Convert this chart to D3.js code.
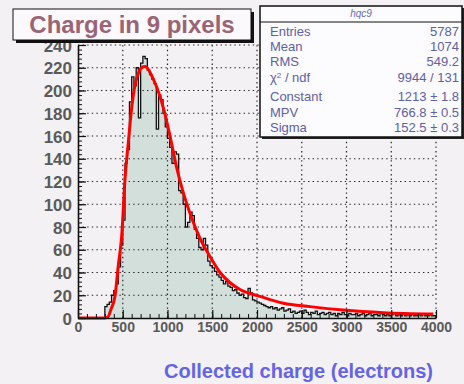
<!DOCTYPE html>
<html>
<head>
<meta charset="utf-8">
<script src="https://cdn.jsdelivr.net/npm/d3@7"></script>
<style>
  html, body { margin: 0; padding: 0; background: #f4f1f5; }
  svg { display: block; }
</style>
</head>
<body>
<svg id="chart" width="464" height="384"></svg>
<script>
// Histogram: collected charge in a 3x3 pixel cluster, 25-electron bins from 0 to 4000
const binWidth = 25;
const counts = [
  0, 0, 0, 0, 0, 0, 0, 0, 0, 0, 0, 0,
  10, 12, 14, 20, 24, 30, 45, 64, 86, 136, 148, 190,
  212, 204, 220, 176, 224, 230, 228, 218, 214, 210, 206, 166,
  196, 192, 180, 168, 158, 150, 136, 146, 144, 112, 110, 100,
  80, 84, 93, 90, 78, 70, 62, 60, 70, 64, 50, 46,
  44, 41, 38, 36, 33, 30, 32, 28, 27, 24, 25, 22,
  20, 21, 18, 17, 26, 22, 16, 15, 14, 13, 12, 11,
  10, 9, 10, 8, 9, 7, 8, 9, 6, 7, 8, 5,
  6, 4, 5, 6, 4, 7, 5, 3, 5, 4, 6, 3,
  4, 5, 3, 4, 5, 3, 4, 2, 4, 3, 5, 3,
  2, 4, 3, 3, 4, 2, 3, 4, 2, 3, 4, 2,
  3, 3, 2, 4, 3, 2, 3, 2, 3, 4, 2, 3,
  2, 3, 2, 3, 2, 3, 2, 2, 3, 2, 3, 2,
  2, 3, 2, 2
];

// Landau fit curve (charge, counts per bin)
const fitX = [0, 300, 335, 370, 413, 450, 488, 525, 563, 600, 640, 674, 710, 749, 790, 830, 879,
              953, 1028, 1103, 1177, 1251, 1363, 1475, 1587, 1700, 1810, 2034, 2294, 2592, 2964, 3411, 3970];
const fitY = [0, 0, 1, 8, 19, 46, 72, 122, 155, 185, 206, 215, 220, 221, 218, 212, 203,
              185, 160, 132, 110, 92, 70, 54, 40, 31, 25, 19, 13, 10, 7, 4.7, 3.5];

const xTicks = [0, 500, 1000, 1500, 2000, 2500, 3000, 3500, 4000];
const yTicks = [0, 20, 40, 60, 80, 100, 120, 140, 160, 180, 200, 220, 240];

const histTitle = "Charge in 9 pixels";
const xTitle = "Collected charge (electrons)";
const statsName = "hqc9";
const statNames = ["Entries", "Mean", "RMS", "\u03C7\u00B2 / ndf", "Constant", "MPV", "Sigma"];
const statValues = ["5787", "1074", "549.2", "9944 / 131", "1213 \u00B1 1.8", "766.8 \u00B1 0.5", "152.5 \u00B1 0.3"];

const svg = d3.select("#chart");
const W = 464, H = 384;
const frame = { left: 78, right: 436, top: 45, bottom: 318 };
const font = "'Liberation Sans', Arial, sans-serif";

svg.append("rect").attr("width", W).attr("height", H).attr("fill", "#f4f1f5");

const x = d3.scaleLinear().domain([0, 4000]).range([frame.left, frame.right]);
const y = d3.scaleLinear().domain([0, 240]).range([frame.bottom, frame.top]);

// Step outline of the histogram
const stepPts = [[0, 0]];
counts.forEach((c, i) => {
  stepPts.push([i * binWidth, c]);
  stepPts.push([(i + 1) * binWidth, c]);
});
stepPts.push([counts.length * binWidth, 0]);
const stepLine = d3.line().x(d => x(d[0])).y(d => y(d[1]));

svg.append("path")
  .attr("d", stepLine(stepPts) + "Z")
  .attr("fill", "#d3dfdb")
  .attr("stroke", "none");

// Dotted grid
const grid = svg.append("g").attr("stroke", "#222").attr("stroke-width", 1.2)
  .attr("stroke-dasharray", "1.4,3.2").attr("fill", "none");
grid.selectAll("line.h").data(yTicks.filter(v => v > 0)).join("line")
  .attr("x1", frame.left).attr("x2", frame.right)
  .attr("y1", d => y(d)).attr("y2", d => y(d));
grid.selectAll("line.v").data(xTicks.filter(v => v > 0)).join("line")
  .attr("y1", frame.bottom).attr("y2", frame.top)
  .attr("x1", d => x(d)).attr("x2", d => x(d));

svg.append("path")
  .attr("d", stepLine(stepPts))
  .attr("fill", "none")
  .attr("stroke", "#111")
  .attr("stroke-width", 1.3);

// Fit curve
const fitLine = d3.line().x((d, i) => x(fitX[i])).y(d => y(d)).curve(d3.curveMonotoneX);
svg.append("path")
  .attr("d", fitLine(fitY))
  .attr("fill", "none")
  .attr("stroke", "#ff0000")
  .attr("stroke-width", 3)
  .attr("stroke-linejoin", "round");

// Axes with inward ticks
const yMinor = d3.range(0, 241, 4);
const xMinor = d3.range(0, 4001, 100);

svg.append("g").attr("transform", `translate(${frame.left},0)`)
  .call(d3.axisLeft(y).tickValues(yMinor).tickSize(-4).tickSizeOuter(0).tickFormat(""))
  .call(g => g.select(".domain").remove())
  .selectAll("line").attr("stroke", "#111");
svg.append("g").attr("transform", `translate(0,${frame.bottom})`)
  .call(d3.axisBottom(x).tickValues(xMinor).tickSize(-4).tickSizeOuter(0).tickFormat(""))
  .call(g => g.select(".domain").remove())
  .selectAll("line").attr("stroke", "#111");

const yAxis = svg.append("g").attr("transform", `translate(${frame.left},0)`)
  .call(d3.axisLeft(y).tickValues(yTicks).tickSize(-8).tickSizeOuter(0).tickPadding(6).tickFormat(d3.format("d")));
const xAxis = svg.append("g").attr("transform", `translate(0,${frame.bottom})`)
  .call(d3.axisBottom(x).tickValues(xTicks).tickSize(-8).tickSizeOuter(0).tickPadding(4).tickFormat(d3.format("d")));

[yAxis, xAxis].forEach(g => {
  g.select(".domain").attr("stroke", "#111").attr("stroke-width", 1.6);
  g.selectAll(".tick line").attr("stroke", "#111").attr("stroke-width", 1.2);
  g.selectAll(".tick text")
    .attr("fill", "#5a5a5a")
    .attr("font-family", font)
    .attr("font-weight", "bold");
});
yAxis.selectAll(".tick text").attr("font-size", 17).attr("dy", "0.36em");
xAxis.selectAll(".tick text").attr("font-size", 14);

// Axis title
svg.append("text")
  .attr("x", 433).attr("y", 378)
  .attr("text-anchor", "end")
  .attr("font-family", font)
  .attr("font-weight", "bold")
  .attr("font-size", 20)
  .attr("fill", "#6464e4")
  .text(xTitle);

// Title box with shadow
svg.append("rect").attr("x", 16).attr("y", 12).attr("width", 238).attr("height", 31).attr("fill", "#111");
svg.append("rect").attr("x", 13).attr("y", 9).attr("width", 238).attr("height", 31)
  .attr("fill", "#fbf9fb").attr("stroke", "#111").attr("stroke-width", 1);
svg.append("text")
  .attr("x", 132).attr("y", 33)
  .attr("text-anchor", "middle")
  .attr("font-family", font)
  .attr("font-weight", "bold")
  .attr("font-size", 24)
  .attr("fill", "#9a6474")
  .text(histTitle);

// Statistics box
const sb = { x: 260, y: 6, w: 202, h: 131 };
svg.append("rect").attr("x", sb.x + 2).attr("y", sb.y + 2).attr("width", sb.w).attr("height", sb.h).attr("fill", "#222");
svg.append("rect").attr("x", sb.x).attr("y", sb.y).attr("width", sb.w).attr("height", sb.h)
  .attr("fill", "#fcfbfd").attr("stroke", "#111").attr("stroke-width", 1.5);
svg.append("line").attr("x1", sb.x).attr("x2", sb.x + sb.w).attr("y1", 22).attr("y2", 22)
  .attr("stroke", "#111").attr("stroke-width", 1.2);
svg.append("text")
  .attr("x", sb.x + sb.w / 2).attr("y", 17)
  .attr("text-anchor", "middle")
  .attr("font-family", font)
  .attr("font-size", 10).attr("font-style", "italic")
  .attr("fill", "#6a6aa8")
  .text(statsName);

const rowBase = [36, 51, 66, 82, 101, 117, 132];
statNames.forEach((name, i) => {
  const t = svg.append("text")
    .attr("x", 270).attr("y", rowBase[i])
    .attr("font-family", font).attr("font-size", 13)
    .attr("fill", "#6060a4");
  if (name.includes("\u00B2")) {
    t.append("tspan").text("\u03C7");
    t.append("tspan").attr("font-size", 8).attr("dy", -4).text("2");
    t.append("tspan").attr("dy", 4).text(" / ndf");
  } else {
    t.text(name);
  }
  svg.append("text")
    .attr("x", 459).attr("y", rowBase[i])
    .attr("text-anchor", "end")
    .attr("font-family", font).attr("font-size", 13)
    .attr("fill", "#6060a4")
    .text(statValues[i]);
});
</script>
</body>
</html>
